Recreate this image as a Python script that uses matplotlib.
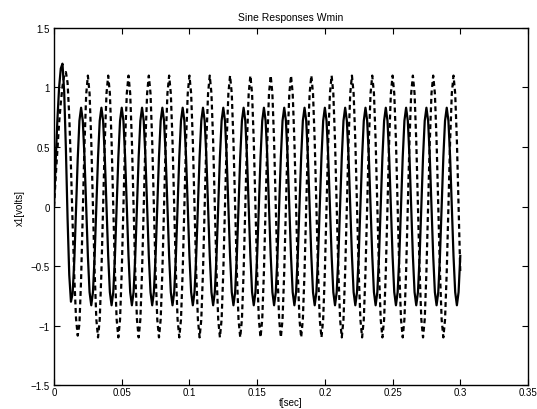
import numpy as np
import matplotlib

matplotlib.use("Agg")
import matplotlib.pyplot as plt

# sample spacing of the traces (s)
t_step = 0.00125

# solid trace, x1 [volts], one value per sample
x1_solid = [
    0.0, 0.39, 0.73, 1.0, 1.16, 1.2, 0.965, 0.49, -0.10, -0.575, -0.80, -0.73,
    -0.45, -0.03, 0.40, 0.72,
    0.83, 0.72, 0.415, 0.0, -0.415, -0.72, -0.83, -0.72, -0.415, 0.0, 0.415, 0.72,
    0.83, 0.72, 0.415, 0.0, -0.415, -0.72, -0.83, -0.72, -0.415, 0.0, 0.415, 0.72,
    0.83, 0.72, 0.415, 0.0, -0.415, -0.72, -0.83, -0.72, -0.415, 0.0, 0.415, 0.72,
    0.83, 0.72, 0.415, 0.0, -0.415, -0.72, -0.83, -0.72, -0.415, 0.0, 0.415, 0.72,
    0.83, 0.72, 0.415, 0.0, -0.415, -0.72, -0.83, -0.72, -0.415, 0.0, 0.415, 0.72,
    0.83, 0.72, 0.415, 0.0, -0.415, -0.72, -0.83, -0.72, -0.415, 0.0, 0.415, 0.72,
    0.83, 0.72, 0.415, 0.0, -0.415, -0.72, -0.83, -0.72, -0.415, 0.0, 0.415, 0.72,
    0.83, 0.72, 0.415, 0.0, -0.415, -0.72, -0.83, -0.72, -0.415, 0.0, 0.415, 0.72,
    0.83, 0.72, 0.415, 0.0, -0.415, -0.72, -0.83, -0.72, -0.415, 0.0, 0.415, 0.72,
    0.83, 0.72, 0.415, 0.0, -0.415, -0.72, -0.83, -0.72, -0.415, 0.0, 0.415, 0.72,
    0.83, 0.72, 0.415, 0.0, -0.415, -0.72, -0.83, -0.72, -0.415, 0.0, 0.415, 0.72,
    0.83, 0.72, 0.415, 0.0, -0.415, -0.72, -0.83, -0.72, -0.415, 0.0, 0.415, 0.72,
    0.83, 0.72, 0.415, 0.0, -0.415, -0.72, -0.83, -0.72, -0.415, 0.0, 0.415, 0.72,
    0.83, 0.72, 0.415, 0.0, -0.415, -0.72, -0.83, -0.72, -0.415, 0.0, 0.415, 0.72,
    0.83, 0.72, 0.415, 0.0, -0.415, -0.72, -0.83, -0.72, -0.415, 0.0, 0.415, 0.72,
    0.83, 0.72, 0.415, 0.0, -0.415, -0.72, -0.83, -0.72, -0.415, 0.0, 0.415, 0.72,
    0.83, 0.72, 0.415, 0.0, -0.415, -0.72, -0.83, -0.72, -0.415, 0.0, 0.415, 0.72,
    0.83, 0.72, 0.415, 0.0, -0.415, -0.72, -0.83, -0.72, -0.415, 0.0, 0.415, 0.72,
    0.83, 0.72, 0.415, 0.0, -0.415, -0.72, -0.83, -0.72, -0.415,
]

# dashed trace, x1 [volts], one value per sample
x1_dashed = [
    0.0, 0.25, 0.48, 0.70, 0.87, 1.01, 1.10, 1.13, 1.04, 0.76, 0.335, -0.15,
    -0.60, -0.94, -1.085, -0.99, -0.61, -0.05, 0.52, 0.94,
    1.1, 0.95, 0.55, 0.0, -0.55, -0.95, -1.1, -0.95, -0.55, 0.0, 0.55, 0.95,
    1.1, 0.95, 0.55, 0.0, -0.55, -0.95, -1.1, -0.95, -0.55, 0.0, 0.55, 0.95,
    1.1, 0.95, 0.55, 0.0, -0.55, -0.95, -1.1, -0.95, -0.55, 0.0, 0.55, 0.95,
    1.1, 0.95, 0.55, 0.0, -0.55, -0.95, -1.1, -0.95, -0.55, 0.0, 0.55, 0.95,
    1.1, 0.95, 0.55, 0.0, -0.55, -0.95, -1.1, -0.95, -0.55, 0.0, 0.55, 0.95,
    1.1, 0.95, 0.55, 0.0, -0.55, -0.95, -1.1, -0.95, -0.55, 0.0, 0.55, 0.95,
    1.1, 0.95, 0.55, 0.0, -0.55, -0.95, -1.1, -0.95, -0.55, 0.0, 0.55, 0.95,
    1.1, 0.95, 0.55, 0.0, -0.55, -0.95, -1.1, -0.95, -0.55, 0.0, 0.55, 0.95,
    1.1, 0.95, 0.55, 0.0, -0.55, -0.95, -1.1, -0.95, -0.55, 0.0, 0.55, 0.95,
    1.1, 0.95, 0.55, 0.0, -0.55, -0.95, -1.1, -0.95, -0.55, 0.0, 0.55, 0.95,
    1.1, 0.95, 0.55, 0.0, -0.55, -0.95, -1.1, -0.95, -0.55, 0.0, 0.55, 0.95,
    1.1, 0.95, 0.55, 0.0, -0.55, -0.95, -1.1, -0.95, -0.55, 0.0, 0.55, 0.95,
    1.1, 0.95, 0.55, 0.0, -0.55, -0.95, -1.1, -0.95, -0.55, 0.0, 0.55, 0.95,
    1.1, 0.95, 0.55, 0.0, -0.55, -0.95, -1.1, -0.95, -0.55, 0.0, 0.55, 0.95,
    1.1, 0.95, 0.55, 0.0, -0.55, -0.95, -1.1, -0.95, -0.55, 0.0, 0.55, 0.95,
    1.1, 0.95, 0.55, 0.0, -0.55, -0.95, -1.1, -0.95, -0.55, 0.0, 0.55, 0.95,
    1.1, 0.95, 0.55, 0.0, -0.55, -0.95, -1.1, -0.95, -0.55, 0.0, 0.55, 0.95,
    1.1, 0.95, 0.55, 0.0, -0.55, -0.95, -1.1, -0.95, -0.55, 0.0, 0.55, 0.95,
    1.1, 0.95, 0.55, 0.0, -0.55,
]

x_ticks = [0, 0.05, 0.1, 0.15, 0.2, 0.25, 0.3, 0.35]
y_ticks = [-1.5, -1, -0.5, 0, 0.5, 1, 1.5]

title = "Sine Responses Wmin"
x_label = "t[sec]"
y_label = "x1[volts]"


def main():
    plt.rcParams["font.family"] = ["Liberation Sans", "DejaVu Sans"]
    plt.rcParams["font.size"] = 7

    t_solid = np.arange(len(x1_solid)) * t_step
    t_dashed = np.arange(len(x1_dashed)) * t_step

    fig = plt.figure(figsize=(5.37, 4.10), dpi=100)
    ax = fig.add_axes([0.1006, 0.0585, 0.8826, 0.8708])

    ax.plot(t_solid, x1_solid, color="black", linewidth=1.6, solid_joinstyle="round")
    ax.plot(t_dashed, x1_dashed, color="black", linewidth=1.6,
            linestyle=(0, (2.2, 1.6)))

    ax.set_xlim(x_ticks[0], x_ticks[-1])
    ax.set_ylim(y_ticks[0], y_ticks[-1])
    ax.set_xticks(x_ticks)
    ax.set_yticks(y_ticks)
    ax.set_xticklabels([f"{v:g}" for v in x_ticks])
    ax.set_yticklabels([f"{v:g}".replace("-", "\u2212") for v in y_ticks])
    ax.tick_params(direction="in", top=True, right=True, length=4, width=0.8,
                   labelsize=7)
    ax.tick_params(axis="x", pad=1.5)
    ax.tick_params(axis="y", pad=3)
    for spine in ax.spines.values():
        spine.set_linewidth(1.0)

    ax.set_title(title, fontsize=7.5, pad=6)
    ax.set_xlabel(x_label, fontsize=7, labelpad=0)
    ax.set_ylabel(y_label, fontsize=7, labelpad=4)

    fig.savefig("out.png", dpi=100)
    plt.close(fig)


if __name__ == "__main__":
    main()
